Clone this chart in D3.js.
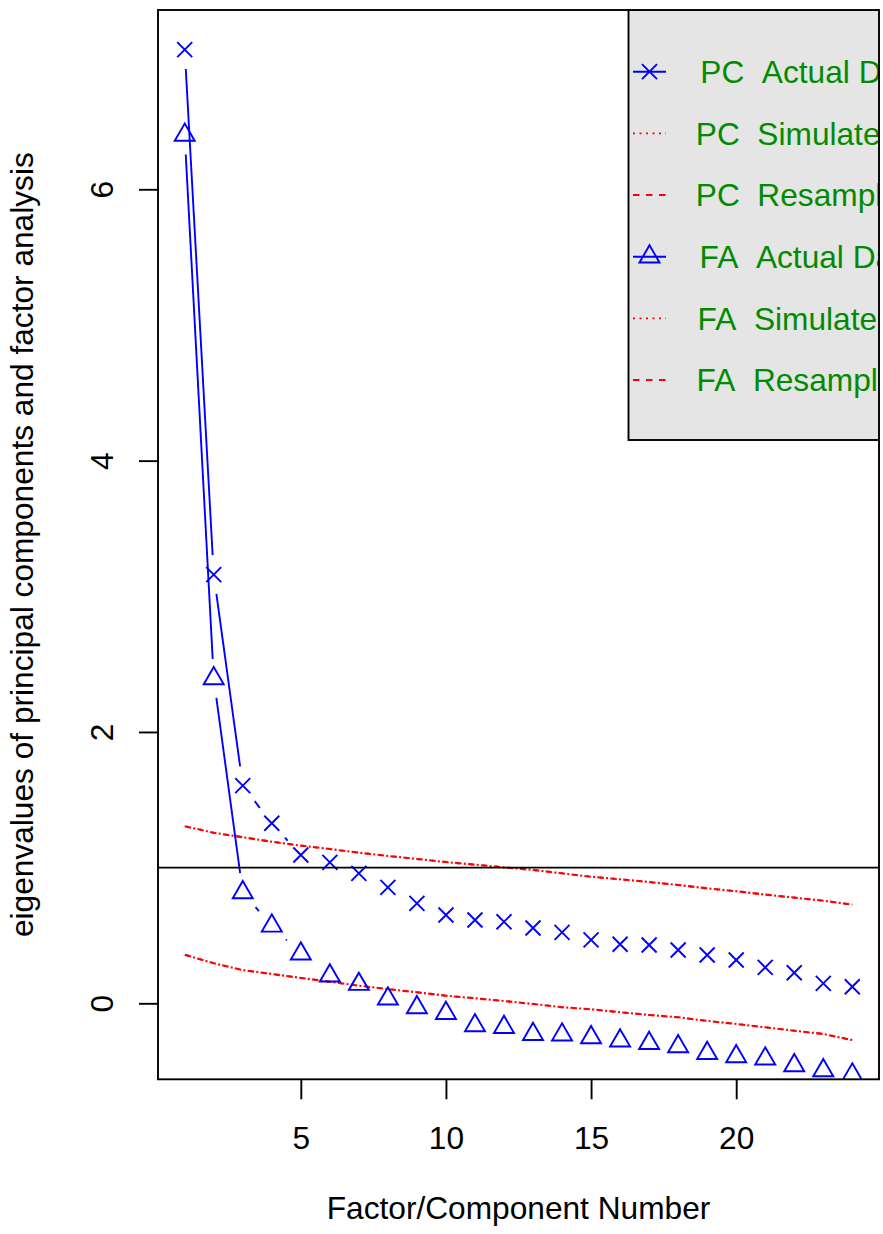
<!DOCTYPE html>
<html>
<head>
<meta charset="utf-8">
<script src="https://cdn.jsdelivr.net/npm/d3@7"></script>
<style>
  html, body { margin: 0; padding: 0; background: #fff; }
  svg { display: block; }
  text { font-family: "Liberation Sans", Arial, sans-serif; }
</style>
</head>
<body>
<svg id="chart" width="883" height="1234"></svg>
<script>
// ---------------- data ----------------
const factorNumbers = d3.range(1, 25);
const pcActual = [7.03, 3.16, 1.604, 1.327, 1.093, 1.039, 0.958, 0.855, 0.737, 0.651, 0.614, 0.601,
                  0.555, 0.523, 0.467, 0.435, 0.430, 0.393, 0.356, 0.319, 0.265, 0.225, 0.147, 0.122];
const faActual = [6.40, 2.394, 0.817, 0.571, 0.365, 0.203, 0.141, 0.033, -0.031, -0.073, -0.164, -0.176,
                  -0.228, -0.232, -0.252, -0.276, -0.294, -0.318, -0.368, -0.392, -0.409, -0.458, -0.495, -0.527];
const pcSimulated = [1.305, 1.257, 1.224, 1.191, 1.162, 1.137, 1.110, 1.086, 1.064, 1.041, 1.022, 1.002,
                     0.983, 0.958, 0.933, 0.914, 0.894, 0.872, 0.847, 0.826, 0.801, 0.779, 0.756, 0.727];
const pcResampled = [1.305, 1.257, 1.224, 1.191, 1.162, 1.137, 1.110, 1.086, 1.064, 1.041, 1.022, 1.002,
                     0.983, 0.958, 0.933, 0.914, 0.894, 0.872, 0.847, 0.826, 0.801, 0.779, 0.756, 0.727];
const faSimulated = [0.358, 0.295, 0.245, 0.216, 0.187, 0.159, 0.130, 0.105, 0.081, 0.056, 0.037, 0.017,
                     -0.005, -0.029, -0.044, -0.066, -0.086, -0.103, -0.130, -0.152, -0.177, -0.202, -0.226, -0.271];
const faResampled = [0.358, 0.295, 0.245, 0.216, 0.187, 0.159, 0.130, 0.105, 0.081, 0.056, 0.037, 0.017,
                     -0.005, -0.029, -0.044, -0.066, -0.086, -0.103, -0.130, -0.152, -0.177, -0.202, -0.226, -0.271];
const xTicks = [5, 10, 15, 20];
const yTicks = [0, 2, 4, 6];
const referenceLine = 1;
const legendLabels = ["PC\u00a0\u00a0Actual Data", "PC\u00a0\u00a0Simulated Data", "PC\u00a0\u00a0Resampled Data",
                      "FA\u00a0\u00a0Actual Data", "FA\u00a0\u00a0Simulated Data", "FA\u00a0\u00a0Resampled Data"];
const legendKinds = ["pc", "dotted", "dashed", "fa", "dotted", "dashed"];
const xLabel = "Factor/Component Number";
const yLabel = "eigenvalues of principal components and factor analysis";

// ---------------- layout ----------------
const L = 158, R = 879, T = 10, B = 1079.3;
const FS = 31.67;
const x = d3.scaleLinear().domain([0.08, 24.92]).range([L, R]);
const y = d3.scaleLinear().domain([-0.5602, 7.3216]).range([B, T]);

const svg = d3.select("#chart");
svg.append("defs").append("clipPath").attr("id", "plotclip")
  .append("rect").attr("x", L).attr("y", T).attr("width", R - L).attr("height", B - T);

const plot = svg.append("g").attr("clip-path", "url(#plotclip)");

const BLUE = "#0000ff", RED = "#ff0000", GREEN = "#008b00";
const LW = 1.9;
const xPath = "M-7.5,-7.5L7.5,7.5M-7.5,7.5L7.5,-7.5";
const triPath = "M0,-11.5L10,5.75L-10,5.75Z";
const dashed = "6.5,6.5";
const dotted = "2,4.5";

// red lines (simulated dotted, resampled dashed)
const line = d3.line().x((d, i) => x(factorNumbers[i])).y(d => y(d));
[[pcSimulated, dotted, -2.25], [pcResampled, dashed, 0], [faSimulated, dotted, -2.25], [faResampled, dashed, 0]]
  .forEach(([vals, dash, off]) => {
    plot.append("path").attr("d", line(vals)).attr("fill", "none")
      .attr("stroke", RED).attr("stroke-width", 2.1)
      .attr("stroke-dasharray", dash).attr("stroke-dashoffset", off);
  });

// type "b" lines with gaps around points
const GAP = 19.5;
function gapSegments(vals) {
  const pts = vals.map((v, i) => [x(factorNumbers[i]), y(v)]);
  const segs = [];
  for (let i = 0; i < pts.length - 1; i++) {
    const [x0, y0] = pts[i], [x1, y1] = pts[i + 1];
    const dx = x1 - x0, dy = y1 - y0, len = Math.hypot(dx, dy);
    if (len > 2 * GAP) {
      const ux = dx / len, uy = dy / len;
      segs.push([x0 + ux * GAP, y0 + uy * GAP, x1 - ux * GAP, y1 - uy * GAP]);
    }
  }
  return segs;
}
[pcActual, faActual].forEach(vals => {
  plot.append("g").selectAll("line").data(gapSegments(vals)).join("line")
    .attr("x1", d => d[0]).attr("y1", d => d[1]).attr("x2", d => d[2]).attr("y2", d => d[3])
    .attr("stroke", BLUE).attr("stroke-width", LW);
});

plot.append("g").selectAll("path").data(pcActual).join("path")
  .attr("transform", (d, i) => `translate(${x(factorNumbers[i])},${y(d)})`)
  .attr("d", xPath).attr("fill", "none").attr("stroke", BLUE).attr("stroke-width", LW);
plot.append("g").selectAll("path").data(faActual).join("path")
  .attr("transform", (d, i) => `translate(${x(factorNumbers[i])},${y(d)})`)
  .attr("d", triPath).attr("fill", "none").attr("stroke", BLUE).attr("stroke-width", LW);

// reference line at 1
plot.append("line").attr("x1", L).attr("x2", R).attr("y1", y(referenceLine)).attr("y2", y(referenceLine))
  .attr("stroke", "#000").attr("stroke-width", LW);

// legend (clipped to plot region, as in the original)
const lg = plot.append("g");
const LX = 628.5, LY = T, LH = 430;
lg.append("rect").attr("x", LX).attr("y", LY).attr("width", 300).attr("height", LH)
  .attr("fill", "#e5e5e5").attr("stroke", "#000").attr("stroke-width", LW);
const rowY = i => 71.7 + i * 61.67;
const textX = [700.3, 695.8, 695.8, 699.6, 697.6, 696.6];
legendLabels.forEach((lab, i) => {
  const ry = rowY(i), kind = legendKinds[i];
  const seg = lg.append("line").attr("x1", 633).attr("x2", 666).attr("y1", ry).attr("y2", ry)
    .attr("stroke-width", LW);
  if (kind === "pc" || kind === "fa") {
    seg.attr("stroke", BLUE);
    lg.append("path").attr("transform", `translate(649.5,${ry})`)
      .attr("d", kind === "pc" ? xPath : triPath)
      .attr("fill", "none").attr("stroke", BLUE).attr("stroke-width", LW);
  } else {
    seg.attr("stroke", RED).attr("stroke-dasharray", kind === "dotted" ? dotted : dashed);
  }
  lg.append("text").attr("x", textX[i]).attr("y", ry + 11.4)
    .attr("font-size", FS).attr("fill", GREEN).text(lab);
});

// box
svg.append("rect").attr("x", L).attr("y", T).attr("width", R - L).attr("height", B - T)
  .attr("fill", "none").attr("stroke", "#000").attr("stroke-width", LW);

// x axis
const xAxis = svg.append("g").attr("transform", `translate(0,${B})`)
  .call(d3.axisBottom(x).tickValues(xTicks).tickSize(20).tickFormat(d3.format("d")));
xAxis.select(".domain").remove();
xAxis.selectAll(".tick line").attr("stroke", "#000").attr("stroke-width", LW);
xAxis.selectAll(".tick text").attr("y", 70).attr("dy", null)
  .attr("font-size", FS).attr("font-family", "Liberation Sans, Arial, sans-serif").attr("fill", "#000");

// y axis
const yAxis = svg.append("g").attr("transform", `translate(${L},0)`)
  .call(d3.axisLeft(y).tickValues(yTicks).tickSize(19).tickFormat(d3.format("d")));
yAxis.select(".domain").remove();
yAxis.selectAll(".tick line").attr("stroke", "#000").attr("stroke-width", LW);
yAxis.selectAll(".tick text")
  .attr("x", null).attr("dy", null)
  .attr("transform", "translate(-45.5,0) rotate(-90)")
  .attr("text-anchor", "middle")
  .attr("font-size", FS).attr("font-family", "Liberation Sans, Arial, sans-serif").attr("fill", "#000");

// titles
svg.append("text").attr("x", (L + R) / 2).attr("y", 1219.3).attr("text-anchor", "middle")
  .attr("font-size", FS).attr("fill", "#000").text(xLabel);
svg.append("text").attr("transform", `translate(33,${(T + B) / 2}) rotate(-90)`)
  .attr("text-anchor", "middle").attr("font-size", FS).attr("fill", "#000").text(yLabel);
</script>
</body>
</html>
